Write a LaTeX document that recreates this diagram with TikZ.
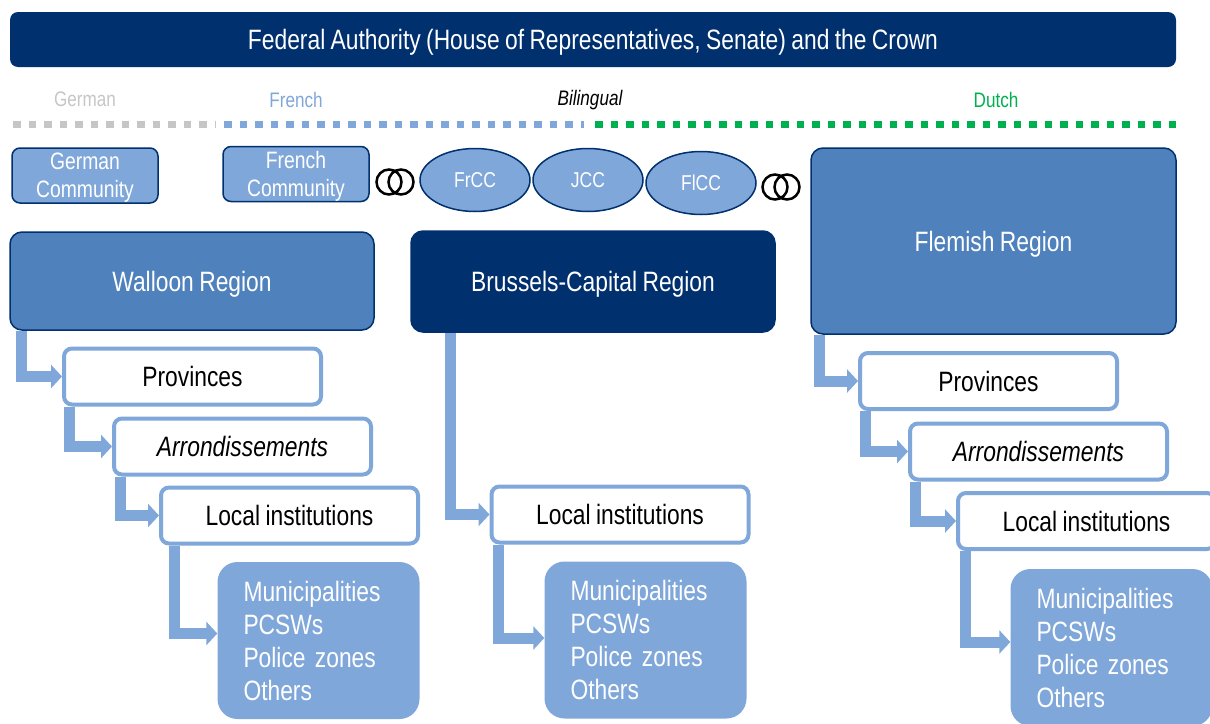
\documentclass[tikz,border=0pt]{standalone}
\usepackage{fontspec}
\setmainfont[FakeStretch=0.815,WordSpace=0.85]{Liberation Sans}
\usetikzlibrary{shapes,arrows.meta}

\definecolor{navy}{RGB}{0,48,110}
\definecolor{regblue}{RGB}{79,129,189}
\definecolor{ltblue}{RGB}{127,167,217}
\definecolor{dutchgreen}{RGB}{0,176,80}
\definecolor{gergray}{RGB}{198,198,198}

\begin{document}
\begin{tikzpicture}[x=1pt,y=-1pt]
\tikzstyle{region}=[rectangle,rounded corners=12pt,draw=navy,line width=1.5pt,fill=regblue,text=white,minimum width=364pt,text depth=0pt,font=\fontsize{28}{32}\selectfont]
\tikzstyle{comm}=[rectangle,rounded corners=8pt,draw=navy,line width=1.5pt,fill=ltblue,text=white,align=center,minimum width=146pt,minimum height=55pt,inner sep=0pt,text depth=0pt,font=\fontsize{23.7}{28}\selectfont]
\tikzstyle{cc}=[ellipse,draw=navy,line width=1.5pt,fill=ltblue,text=white,minimum width=110pt,minimum height=63pt,font=\fontsize{21.5}{24}\selectfont]
\tikzstyle{tierbox}=[rectangle,rounded corners=8pt,draw=ltblue,line width=4pt,fill=white,minimum width=257pt,minimum height=56pt,text depth=0pt,font=\fontsize{28}{32}\selectfont]
\tikzstyle{inst}=[rectangle,rounded corners=20pt,fill=ltblue,text=white,align=left,text width=150pt,inner xsep=26pt,minimum height=157pt,font=\fontsize{28}{33}\selectfont]
\tikzstyle{flow}=[ltblue,line width=11pt,-{Triangle[width=23pt,length=11pt]}]
\tikzstyle{lang}=[text depth=0pt,font=\fontsize{21}{24}\selectfont]
\tikzstyle{langline}=[line width=7pt,dash pattern=on 7.5pt off 8pt]
\useasboundingbox (0,0) rectangle (1210,723);

% federal level and languages
\node[rectangle,rounded corners=8pt,fill=navy,text=white,minimum width=1166pt,minimum height=55pt,text depth=0pt,font=\fontsize{28}{32}\selectfont] (fed) at (593,39.5) {Federal Authority (House of Representatives, Senate) and the Crown};
\node[lang,text=gergray] (lger) at (85,99) {German};
\node[lang,text=ltblue] (lfr) at (296,100) {French};
\node[lang,font=\fontsize{21}{24}\selectfont\itshape] (lbi) at (590,98) {Bilingual};
\node[lang,text=dutchgreen] (ldu) at (996,100) {Dutch};
\draw[langline,gergray] (13,124.5) -- (215,124.5);
\draw[langline,ltblue] (224,124.5) -- (584,124.5);
\draw[langline,dutchgreen] (595,124.5) -- (1180,124.5);

% communities
\node[comm] (gercom) at (85,175.5) {German\\Community};
\node[comm] (frcom) at (296,174) {French\\Community};
\node[cc] (frcc) at (475,180) {FrCC};
\node[cc] (jcc) at (588,180) {JCC};
\node[cc] (flcc) at (701,183) {FlCC};
\draw[line width=2.5pt] (389,182) circle (12.5) (401,182) circle (12.5);
\draw[line width=2.5pt] (775,187) circle (12.5) (787,187) circle (12.5);

% regions
\node[region,minimum height=98pt] (walreg) at (192,281) {Walloon Region};
\node[region,fill=navy,minimum height=101pt] (brureg) at (593,281.5) {Brussels-Capital Region};
\node[region,minimum width=365pt,minimum height=186pt] (flereg) at (993.5,241) {Flemish Region};

% lower levels
\node[tierbox] (walprov) at (192.5,376.5) {Provinces};
\node[tierbox] (walarr) at (242.5,446.5) {\itshape Arrondissements};
\node[tierbox] (walloc) at (289.5,515.5) {Local institutions};
\node[inst] (walmun) at (318.5,640.5) {Municipalities\\PCSWs\\Police zones\\Others};

\node[tierbox] (bruloc) at (620,514.5) {Local institutions};
\node[inst] (brumun) at (645.5,640) {Municipalities\\PCSWs\\Police zones\\Others};

\node[tierbox] (fleprov) at (988.5,381) {Provinces};
\node[tierbox] (flearr) at (1038.5,451.5) {\itshape Arrondissements};
\node[tierbox] (fleloc) at (1086.5,521) {Local institutions};
\node[inst] (flemun) at (1111.5,647.5) {Municipalities\\PCSWs\\Police zones\\Others};

% arrows
\draw[flow] ([xshift=12pt]walreg.south west) |- (walprov.west);
\draw[flow] ([xshift=7pt]walprov.south west) |- (walarr.west);
\draw[flow] ([xshift=8pt]walarr.south west) |- (walloc.west);
\draw[flow] ([xshift=15pt]walloc.south west) |- ([yshift=7pt]walmun.west);
\draw[flow] ([xshift=40pt]brureg.south west) |- (bruloc.west);
\draw[flow] ([xshift=9pt]bruloc.south west) |- ([yshift=2pt]brumun.west);
\draw[flow] ([xshift=9pt]flereg.south west) |- (fleprov.west);
\draw[flow] ([xshift=7pt]fleprov.south west) |- (flearr.west);
\draw[flow] ([xshift=7pt]flearr.south west) |- (fleloc.west);
\draw[flow] ([xshift=9pt]fleloc.south west) |- ([yshift=5.5pt]flemun.west);
\end{tikzpicture}
\end{document}
